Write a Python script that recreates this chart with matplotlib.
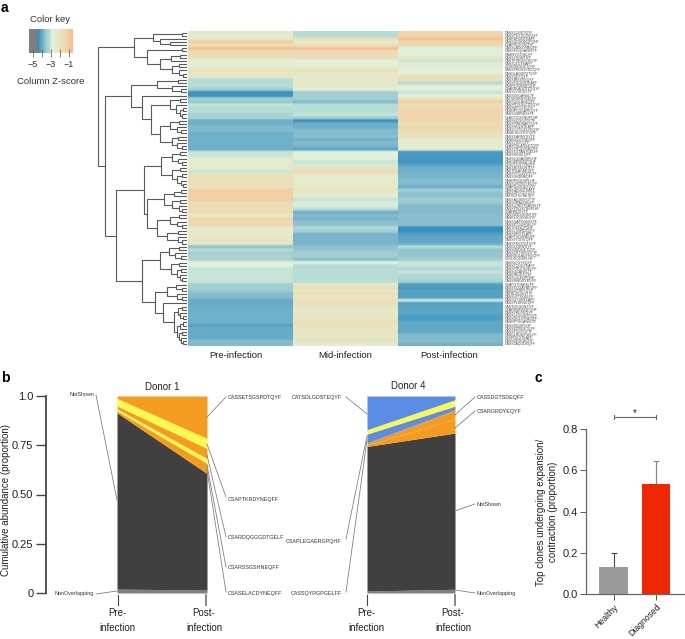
import numpy as np
from matplotlib import pyplot as plt
from matplotlib.colors import LinearSegmentedColormap

W, H = 685, 639

plt.rcParams['font.family'] = ['Liberation Sans', 'DejaVu Sans']

# ---- panel a data (column z-scores)
pre_z = [-2.3, -2.6, -2.3, -1.1, -2.0, -0.8, -1.7, -1.7, -1.8, -2.7,
         -2.7, -2.6, -2.0, -2.2, -2.2, -3.2, -3.2, -3.2, -3.5, -4.4,
         -4.4, -3.5, -3.6, -3.1, -3.2, -3.2, -3.4, -3.4, -4.0, -4.0,
         -3.8, -3.8, -4.0, -4.0, -4.0, -4.0, -4.0, -4.0, -3.1, -3.1,
         -2.5, -2.5, -2.5, -2.4, -3.1, -1.9, -1.9, -1.9, -1.9, -1.9,
         -1.2, -1.2, -1.2, -1.2, -1.7, -1.7, -1.7, -1.7, -2.2, -1.4,
         -1.4, -1.4, -2.4, -2.4, -2.4, -2.2, -2.1, -2.1, -3.7, -3.2,
         -3.5, -3.4, -3.4, -2.9, -2.9, -3.1, -3.1, -3.1, -3.1, -3.1,
         -3.5, -3.5, -3.6, -3.8, -3.8, -4.05, -4.05, -4.0, -4.0, -4.0,
         -4.0, -4.0, -4.0, -4.2, -4.05, -4.05, -4.05, -4.05, -3.8, -3.8]
mid_z = [-3.2, -3.2, -1.7, -2.6, -1.9, -0.8, -1.7, -1.7, -1.7, -2.9,
         -2.9, -2.6, -1.9, -2.4, -2.4, -2.4, -2.4, -2.4, -2.9, -3.5,
         -3.5, -3.5, -3.8, -3.2, -3.2, -3.2, -3.1, -3.5, -4.4, -4.0,
         -4.0, -3.8, -3.8, -3.75, -3.95, -3.8, -3.9, -4.15, -2.9, -2.9,
         -2.9, -3.1, -3.05, -1.9, -1.8, -2.0, -2.6, -2.4, -2.5, -2.5,
         -2.0, -2.4, -2.5, -3.1, -3.0, -3.0, -3.15, -4.0, -3.8, -3.9,
         -3.75, -3.7, -3.25, -3.5, -3.9, -3.9, -3.9, -3.9, -3.7, -3.65,
         -3.5, -3.5, -3.75, -2.9, -3.2, -3.2, -3.2, -3.2, -3.2, -3.2,
         -2.4, -1.8, -2.2, -1.9, -2.2, -1.8, -1.8, -2.1, -2.4, -2.3,
         -2.2, -2.1, -1.8, -1.9, -2.2, -2.2, -2.3, -2.3, -2.1, -2.6]
post_z = [-1.4, -1.4, -0.8, -1.4, -1.4, -2.9, -2.9, -2.9, -2.2, -3.1,
          -2.6, -2.7, -2.9, -2.7, -1.9, -1.9, -3.2, -2.8, -2.9, -3.1,
          -2.8, -2.1, -1.2, -1.8, -1.4, -1.4, -1.4, -1.4, -1.4, -1.7,
          -1.5, -1.7, -1.9, -1.9, -2.5, -2.5, -2.5, -2.5, -4.3, -4.3,
          -4.35, -4.35, -4.2, -4.0, -4.0, -3.9, -3.9, -3.8, -3.8, -4.0,
          -3.5, -3.7, -3.7, -3.5, -3.6, -3.8, -3.8, -3.8, -3.75, -3.75,
          -3.75, -3.75, -4.45, -4.45, -4.2, -4.1, -4.1, -4.0, -3.2, -3.65,
          -3.65, -3.65, -3.5, -3.1, -3.1, -3.3, -3.1, -3.3, -3.3, -3.5,
          -4.2, -4.3, -4.2, -4.2, -4.2, -3.1, -4.2, -4.15, -4.15, -4.15,
          -4.25, -4.25, -4.1, -4.1, -4.1, -4.1, -3.8, -3.8, -3.8, -3.95]
heat_cols = ['Pre-infection', 'Mid-infection', 'Post-infection']

# row labels: too small to read in the reference, only the look is kept
row_labels = [
    'CASSLGGDTQYF', 'CASSPGTGGYEQYF', 'CASRDRGNTEAFF', 'CASSQDGGNQPQHF', 'CSARGQGYEQYF',
    'CASSLAGGYNEQFF', 'CASSEGQGANVLTF', 'CAWSVGTGELFF', 'CASSYSGNTIYF', 'CASTPDRGSYEQYF',
    'CASSLEGTEAFF', 'CSVEDRGGETQYF', 'CASSPRDSSYNEQFF', 'CASGLAGGPDTQYF', 'CASSQETQYF',
    'CASSIRSSYEQYF', 'CASSFGQGNTEAFF', 'CASRTGGNQPQHF', 'CSARDLAGGTDTQYF', 'CASSLVGDGYTF',
    'CASSDSGANVLTF', 'CATSRDRNTGELFF', 'CASSQGLAGEQFF', 'CASSRTSGGTDTQYF', 'CASSWTGYEQYF',
    'CASNPGQGAYEQYF', 'CASSLNRGEKLFF', 'CSAGTGGSNQPQHF', 'CASSVDGGYGYTF', 'CASSPWDRAETQYF',
    'CASSHGLNTEAFF', 'CASSLGTSGSYEQYF', 'CAISESGGTDTQYF', 'CASSEARNYGYTF', 'CASKGQVYNEQFF',
    'CASSLTDTQYF', 'CSASPGLAGKETQYF', 'CASSYRQGYNEQFF', 'CASSTGTANTGELFF', 'CASSRGGEQYF',
    'CASSLQGAGSPLHF', 'CASGDRSNQPQHF', 'CSVGTGGTYEQYF', 'CASSIEGSGNTIYF', 'CASTRLAGDEQFF',
    'CASSPTGLNYGYTF', 'CASSGRDNEQFF', 'CASRPGQDSPLHF', 'CASSLRGSSYEQYF', 'CSARGGSQETQYF',
    'CASSQEGGTEAFF', 'CASSDPGTDTQYF', 'CATSGTGYNEQFF', 'CASSAQGNYGYTF', 'CASSVRAGGELFF',
    'CASSLDRGTGANVLTF', 'CASSPGGSYNSPLHF', 'CSANRDGYTF', 'CASSWDSGGNTIYF', 'CASRLGQGGEQYF',
    'CASSQAPGGEKLFF', 'CASSETGSSGELFF', 'CASTGDNQPQHF', 'CASSLSGRDEQFF', 'CASSHRGTEAFF',
    'CSARTSGGNEQFF', 'CASSYGDYEQYF', 'CASSPDIGTDTQYF', 'CASGQGRNTIYF', 'CASSLWGGETQYF',
    'CASSERTGNYGYTF', 'CASRSGLAGYNEQFF', 'CSVDGQGSPLHF', 'CASSLFGYEQYF', 'CASSTQGGTEAFF',
    'CASSPSGTSGELFF', 'CASSGGANVLTF', 'CASIDRGDTQYF', 'CASSLGLNQPQHF', 'CASSRWGSYEQYF',
    'CSAPGTGNEKLFF', 'CASSEQGAYNEQFF', 'CASSVGRETQYF', 'CATRDGGSGYTF', 'CASSLPTGGELFF',
    'CASSQYSNTEAFF', 'CASSPLDRGEQFF', 'CASTGGGGNTIYF', 'CSARDWGNQPQHF', 'CASSFRGYEQYF',
    'CASSLKGGSDTQYF', 'CASSDGLSYNEQFF', 'CASRPTSGANVLTF', 'CASSIGQSPLHF', 'CASSEDRGETQYF',
    'CASSTGSYGYTF', 'CASGLRGNTGELFF', 'CSVPDGGTEAFF', 'CASSQRGGEQYF', 'CASSLAQGDEQFF']

key_ticks = [-5, -4, -3, -2, -1]

# dendrogram: [merge height, upper child, lower child], None is one heatmap row
L = None
clade_a = [52,
           [33, [4, L, L], [26, L, [16, L, L]]],
           [39, [4, L, L], [26, [15, [6, L, L], L], [14, [7, L, L], [7, L, [3, L, L]]]]]]
clade_b1 = [55,
            [29, [8, L, L], [14, L, [5, L, L]]],
            [44, L,
             [35,
              [16, [6, L, L], [10, L, [6, [3, L, L], [4, L, L]]]],
              [26, [16, [7, L, L], [9, L, [5, L, L]]],
               [14, [8, L, L], [9, L, [4, L, L]]]]]]]
clade_b2 = [42,
            [25, [14, [6, L, L], [8, L, [4, L, L]]],
             [14, [6, L, L], [9, [4, L, L], [5, L, [3, L, L]]]]],
            [39,
             [22, [12, [5, L, L], L], [14, [6, L, L], [7, L, [4, L, L]]]],
             [29, [16, [7, L, L], [9, L, [4, L, L]]], [19, [8, L, L], [8, L, [4, L, L]]]]]]
clade_b3 = [44,
            [26, [17, [7, L, L], [11, L, [5, L, L]]],
             [15, [7, L, L], [9, [5, L, L], [6, L, [4, L, L]]]]],
            [31, [19, [10, L, [4, L, L]], [9, L, [4, L, L]]],
             [23, L,
              [12, [8, [4, L, L], [6, L, [3, L, L]]],
               [9, [6, [3, L, L], L], [7, [4, L, L], [5, L, [3, L, L]]]]]]]]
tree = [88, clade_a, [81, clade_b1, [70, clade_b2, clade_b3]]]

# ---- panel b data: cumulative band tops, bottom to top
d1_pre = [0.0, 0.02, 0.915, 0.925, 0.935, 0.95, 0.988, 1.0]
d1_post = [0.0, 0.015, 0.607, 0.658, 0.683, 0.734, 0.785, 1.0]
d1_cols = ['#808080', '#404040', '#f39c1f', '#fbf84e', '#f39c1f', '#fbf84e', '#f39c1f']
d4_pre = [0.0, 0.01, 0.744, 0.751, 0.761, 0.807, 0.829, 1.0]
d4_post = [0.0, 0.019, 0.812, 0.883, 0.93, 0.949, 0.981, 1.0]
d4_cols = ['#808080', '#404040', '#f39c1f', '#f39c1f', '#5b8de6', '#fbf84e', '#5b8de6']
stages = ['Pre-\ninfection', 'Post-\ninfection']
abund_ticks = [0, 0.25, 0.5, 0.75, 1.0]
abund_labels = ['0', '0.25', '0.50', '0.75', '1.0']

# ---- panel c data
groups = ['Healthy', 'Diagnosed']
means = [0.133, 0.533]
errs = [0.067, 0.113]
bar_cols = ['#9b9b9b', '#ee2700']


def px_axes(x0, y0, x1, y1):
    # axes placed by pixel box, y measured from top of the image
    ax = fig.add_axes([x0 / W, 1 - y1 / H, (x1 - x0) / W, (y1 - y0) / H])
    return ax


fig = plt.figure(figsize=(W / 100, H / 100), dpi=100)

# overlay in image pixels for labels and leader lines
over = fig.add_axes([0, 0, 1, 1], zorder=10)
over.set_xlim(0, W)
over.set_ylim(H, 0)
over.axis('off')

cmap = LinearSegmentedColormap.from_list('key', [
    (0.0, '#7f7f7f'), (0.196, '#7f7f7f'), (0.197, '#2b8cbe'),
    (0.29, '#66aac8'), (0.41, '#a5d0d2'), (0.47, '#b5dcd5'), (0.52, '#e0f2dc'),
    (0.70, '#e8e4c0'), (0.85, '#f0d6ae'), (1.0, '#fabb88')])
z_lo, z_hi = -5.48, -0.63

# heatmap, columns repeated so the smoothing only softens the row edges
ax = px_axes(188, 31, 503, 346)
hm = np.array([pre_z, mid_z, post_z]).T
ax.imshow(np.repeat(hm, 105, axis=1), cmap=cmap, vmin=z_lo, vmax=z_hi, aspect='auto',
          interpolation='hanning')
ax.axis('off')
for i, c in enumerate(heat_cols):
    over.text(236 + (i == 1) * 109 + (i == 2) * 213, 355, c, fontsize=6.8, color='#222222',
              ha='center', va='center')
for i, lab in enumerate(row_labels):
    over.text(505, 31 + 3.15 * (i + 0.5), lab, fontsize=2.5, color='#444444', ha='left', va='center')

# dendrogram
den = px_axes(98, 31, 186, 346)
den.set_xlim(88, 0)
den.set_ylim(100, 0)
den.axis('off')
leaf = [0]


def draw(node):
    if node is None:
        leaf[0] += 1
        return leaf[0] - 0.5, 0
    h, a, b = node
    ya, ha = draw(a)
    yb, hb = draw(b)
    den.plot([ha, h, h, hb], [ya, ya, yb, yb], color='#5a5a5a', lw=0.8, clip_on=False,
             solid_joinstyle='miter')
    return (ya + yb) / 2, h


draw(tree)

# color key
key = px_axes(28.7, 29, 72.3, 53)
key.imshow(np.linspace(z_lo, z_hi, 200)[None, :], cmap=cmap, aspect='auto',
           extent=[z_lo, z_hi, 0, 1], vmin=z_lo, vmax=z_hi)
key.set_yticks([])
key.set_xticks(key_ticks)
key.set_xticklabels(['\u22125', '', '\u22123', '', '\u22121'], fontsize=6.5, color='#333333')
key.tick_params(axis='x', direction='inout', length=6, width=0.5, color='#555555', pad=2)
for s in key.spines.values():
    s.set_visible(False)
over.text(50, 20, 'Color key', fontsize=6.8, color='#333333', ha='center', va='center')
over.text(51, 82, 'Column Z-score', fontsize=6.8, color='#333333', ha='center', va='center')


def alluvial(x0, x1, pre, post, cols):
    a = px_axes(x0, 396, x1, 593)
    for i, c in enumerate(cols):
        a.fill_between([0, 1], [pre[i], post[i]], [pre[i + 1], post[i + 1]], color=c, lw=0)
    a.set_xlim(0, 1)
    a.set_ylim(0, 1)
    a.axis('off')


alluvial(117, 207, d1_pre, d1_post, d1_cols)
alluvial(367, 455, d4_pre, d4_post, d4_cols)

# abundance axis for donor 1
yax = px_axes(46, 396, 47, 593)
yax.set_ylim(0, 1)
yax.set_xticks([])
yax.patch.set_visible(False)
for s in ['top', 'right', 'bottom']:
    yax.spines[s].set_visible(False)
yax.spines['left'].set_linewidth(1.3)
yax.spines['left'].set_color('#444444')
yax.set_yticks(abund_ticks)
yax.set_yticklabels(abund_labels, fontsize=8, color='#222222')
yax.tick_params(axis='y', length=7, width=1.0, color='#444444', pad=2)
over.text(6, 500, 'Cumulative abundance (proportion)', rotation=90, fontsize=7, color='#222222',
          ha='center', va='center')

over.text(162, 387, 'Donor 1', fontsize=7, color='#222222', ha='center', va='center')
over.text(408, 386, 'Donor 4', fontsize=7, color='#222222', ha='center', va='center')

for x, col, w, s in [(118, '#444444', 0.8, stages[0]), (206, '#888888', 1.4, stages[1]),
                     (367, '#444444', 0.8, stages[0]), (455, '#888888', 1.4, stages[1])]:
    over.plot([x, x], [595, 605], color=col, lw=w)
    over.text(x - (1 if x in (118, 367) else 2), 620.5, s, fontsize=7, color='#222222', ha='center',
              va='center', linespacing=1.55)

# clone labels with their leader lines: text, text x, text y, align, line from ribbon to text
clone_tags = [
    ('NotShown', 94, 395, 'right', (117, 500), (96, 395)),
    ('NonOverlapping', 94, 594, 'right', (117, 591), (96, 594)),
    ('CASSETSGSPDTQYF', 228, 397, 'left', (207, 417), (226, 397)),
    ('CSAPTKRDYNEQFF', 228, 499, 'left', (207, 444), (226, 497)),
    ('CSARDQGGGDTGELF', 228, 538, 'left', (207, 455), (226, 537)),
    ('CSARSSGSHNEQFF', 228, 568, 'left', (207, 465), (226, 567)),
    ('CSASELACDYNEQFF', 228, 593, 'left', (207, 470), (226, 592)),
    ('CATSDLGDSTEQYF', 342, 398, 'right', (367, 414), (346, 397)),
    ('CSAPLEGAERGPQHF', 342, 541, 'right', (367, 436), (346, 539)),
    ('CASSQYRGPGELFF', 342, 593, 'right', (367, 440), (346, 592)),
    ('CASSDGTSDEQFF', 477, 398, 'left', (455, 415), (475, 397)),
    ('CSARGRDYEQYF', 477, 412, 'left', (455, 428), (475, 411)),
    ('NotShown', 477, 505, 'left', (455, 511), (475, 504)),
    ('NonOverlapping', 477, 593, 'left', (455, 590), (475, 593)),
]
for txt, tx, ty, ha, p0, p1 in clone_tags:
    over.text(tx, ty, txt, fontsize=3.9, color='#333333', ha=ha, va='center')
    over.plot([p0[0], p1[0]], [p0[1], p1[1]], color='#777777', lw=0.55)

# panel c
bx = px_axes(586, 429, 685, 594)
bx.patch.set_visible(False)
pos = [0, 1]
bx.bar(pos, means, width=0.68, color=bar_cols, lw=0, zorder=2)
bx.errorbar(pos[:1], means[:1], yerr=[[0], errs[:1]], ecolor='#444444', elinewidth=0.8, capsize=2.5,
            capthick=0.8, fmt='none', zorder=1)
bx.errorbar(pos[1:], means[1:], yerr=[[0], errs[1:]], ecolor='#888888', elinewidth=0.9, capsize=2.5,
            capthick=0.8, fmt='none', zorder=1)
bx.set_xlim(-0.66, 1.69)
bx.set_ylim(0, 0.8)
bx.set_xticks(pos)
bx.set_xticklabels(groups, rotation=45, ha='right', rotation_mode='anchor', fontsize=6.2, color='#222222')
bx.set_yticks([0, 0.2, 0.4, 0.6, 0.8])
bx.set_yticklabels(['0.0', '0.2', '0.4', '0.6', '0.8'], fontsize=8, color='#222222')
bx.tick_params(length=4, width=0.7, color='#555555', pad=2)
for s in ['top', 'right']:
    bx.spines[s].set_visible(False)
for s in ['left', 'bottom']:
    bx.spines[s].set_color('#666666')
    bx.spines[s].set_linewidth(0.9)
over.text(547, 512, 'Top clones undergoing expansion/\ncontraction (proportion)', rotation=90,
          fontsize=7, color='#222222', ha='center', va='center', linespacing=1.25)
over.plot([614, 614, 614, 656, 656, 656], [415, 419, 417, 417, 415, 419], color='#666666', lw=0.8)
over.text(635, 413, '*', fontsize=7, color='#222222', ha='center', va='center')

over.text(1, 8, 'a', fontsize=10, fontweight='bold', ha='left', va='center')
over.text(1, 378, 'b', fontsize=10, fontweight='bold', ha='left', va='center')
over.text(535, 378, 'c', fontsize=10, fontweight='bold', ha='left', va='center')

fig.savefig('out.png', dpi=100)
